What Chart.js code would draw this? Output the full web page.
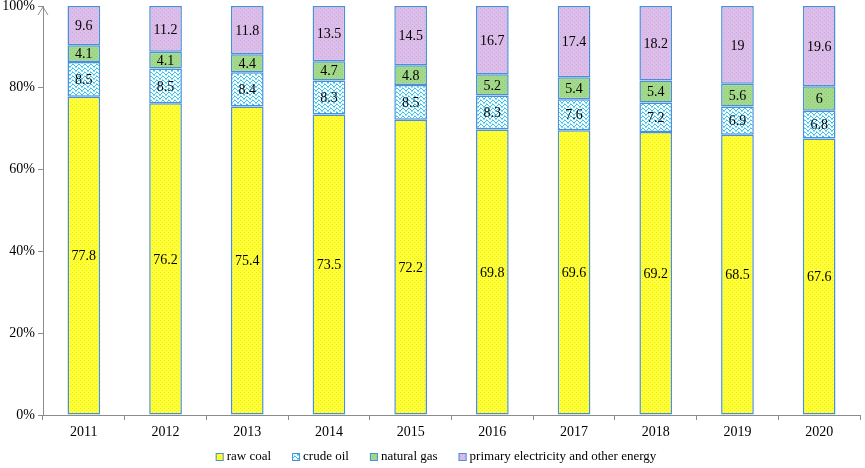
<!DOCTYPE html>
<html>
<head>
<meta charset="utf-8">
<script src="https://cdn.jsdelivr.net/npm/chart.js@4"></script>
<style>
  html, body { margin: 0; padding: 0; background: #fff; }
  #wrap { width: 865px; height: 468px; }
</style>
</head>
<body>
<div id="wrap"><canvas id="myChart"></canvas></div>
<script>
const years = ['2011', '2012', '2013', '2014', '2015', '2016', '2017', '2018', '2019', '2020'];
const rawCoal = [77.8, 76.2, 75.4, 73.5, 72.2, 69.8, 69.6, 69.2, 68.5, 67.6];
const crudeOil = [8.5, 8.5, 8.4, 8.3, 8.5, 8.3, 7.6, 7.2, 6.9, 6.8];
const naturalGas = [4.1, 4.1, 4.4, 4.7, 4.8, 5.2, 5.4, 5.4, 5.6, 6];
const primaryElec = [9.6, 11.2, 11.8, 13.5, 14.5, 16.7, 17.4, 18.2, 19, 19.6];
const yTicks = [0, 20, 40, 60, 80, 100];

const FONT = "'Liberation Serif', 'Times New Roman', serif";
const BORDER = '#4a90d6';
const AXIS = '#8c8c8c';

// little tiles for the Excel-like fill patterns
function makeTile(w, h, draw) {
    var c = document.createElement('canvas');
    c.width = w; c.height = h;
    draw(c.getContext('2d'));
    return document.createElement('canvas').getContext('2d').createPattern(c, 'repeat');
}

var dots = function (base, dot) {
    return makeTile(4, 4, function (g) {
        g.fillStyle = base; g.fillRect(0, 0, 4, 4);
        g.fillStyle = dot;
        g.fillRect(0, 0, 1, 1);
        g.fillRect(2, 2, 1, 1);
    });
};

var coalFill = dots('#ffff33', '#e8e82a');
var gasFill = dots('#a3d98a', '#92cb78');
var elecFill = dots('#dcbde9', '#ceadde');
var oilFill = makeTile(6, 4, function (g) {
    g.fillStyle = '#ffffff'; g.fillRect(0, 0, 6, 4);
    g.fillStyle = '#2ec4f2';
    // zig-zag waves
    g.fillRect(0, 0, 2, 1);
    g.fillRect(2, 1, 1, 1);
    g.fillRect(3, 2, 2, 1);
    g.fillRect(5, 1, 1, 1);
    g.fillStyle = '#8fdcf7';
    g.fillRect(0, 3, 1, 1);
    g.fillRect(3, 3, 2, 1);
});

var valueLabels = {
    id: 'valueLabels',
    afterDatasetsDraw: function (chart) {
        var ctx = chart.ctx;
        ctx.save();
        ctx.font = '14px ' + FONT;
        ctx.fillStyle = '#000';
        ctx.textAlign = 'center';
        ctx.textBaseline = 'middle';
        chart.data.datasets.forEach(function (ds, i) {
            chart.getDatasetMeta(i).data.forEach(function (bar, j) {
                var mid = (bar.y + bar.base) / 2;
                ctx.fillText(String(ds.data[j]), bar.x, mid + 1);
            });
        });
        ctx.restore();
    }
};

var axisArrow = {
    id: 'axisArrow',
    afterDraw: function (chart) {
        var ctx = chart.ctx;
        var a = chart.chartArea;
        ctx.save();
        ctx.strokeStyle = AXIS;
        ctx.lineWidth = 1;
        ctx.beginPath();
        ctx.moveTo(a.left - 5, a.top + 9);
        ctx.lineTo(a.left, a.top + 1);
        ctx.lineTo(a.left + 5, a.top + 9);
        ctx.stroke();
        ctx.restore();
    }
};

// legend drawn by hand so it sits where the original one is
var bottomLegend = {
    id: 'bottomLegend',
    afterDraw: function (chart) {
        var ctx = chart.ctx;
        var sets = chart.data.datasets;
        var box = 8, gapText = 3, gapItem = 21, y = 457;
        ctx.save();
        ctx.font = '13px ' + FONT;
        ctx.textBaseline = 'middle';
        var total = 0;
        sets.forEach(function (d, i) {
            total += box + gapText + ctx.measureText(d.label).width + (i ? gapItem : 0);
        });
        var x = 436 - total / 2;
        sets.forEach(function (d) {
            ctx.fillStyle = d.backgroundColor;
            ctx.fillRect(x, y - box / 2, box, box);
            ctx.strokeStyle = BORDER;
            ctx.lineWidth = 1;
            ctx.strokeRect(x + 0.5, y - box / 2 + 0.5, box - 1, box - 1);
            ctx.fillStyle = '#000';
            ctx.fillText(d.label, x + box + gapText, y);
            x += box + gapText + ctx.measureText(d.label).width + gapItem;
        });
        ctx.restore();
    }
};

function ds(label, data, fill) {
    return {
        label: label,
        data: data,
        backgroundColor: fill,
        borderColor: BORDER,
        borderWidth: 1.5,
        borderSkipped: false,
        barPercentage: 0.4,
        categoryPercentage: 1
    };
}

var ctx = document.getElementById('myChart').getContext('2d');
var chart = new Chart(ctx, {
    type: 'bar',
    data: {
        labels: years,
        datasets: [
            ds('raw coal', rawCoal, coalFill),
            ds('crude oil', crudeOil, oilFill),
            ds('natural gas', naturalGas, gasFill),
            ds('primary electricity and other energy', primaryElec, elecFill)
        ]
    },
    options: {
        responsive: true,
        maintainAspectRatio: false,
        animation: false,
        layout: { padding: { top: 6, right: 5, left: 0, bottom: 23 } },
        plugins: {
            legend: { display: false },
            tooltip: { enabled: false }
        },
        scales: {
            x: {
                stacked: true,
                grid: {
                    display: true,
                    drawOnChartArea: false,
                    offset: true,
                    tickLength: 5,
                    color: AXIS
                },
                border: { color: AXIS },
                ticks: { font: { family: FONT, size: 14 }, color: '#000', padding: 4 },
                afterFit: function (s) { s.height = 30; s.paddingLeft = 0; s.paddingRight = 0; }
            },
            y: {
                stacked: true,
                min: 0,
                max: 100,
                afterBuildTicks: function (s) {
                    s.ticks = yTicks.map(function (v) { return { value: v }; });
                },
                grid: {
                    display: true,
                    drawOnChartArea: false,
                    tickLength: 5,
                    color: AXIS
                },
                border: { color: AXIS },
                ticks: {
                    font: { family: FONT, size: 14 },
                    color: '#000',
                    padding: 3,
                    callback: function (v) { return v + '%'; }
                },
                afterFit: function (s) { s.width = 43; s.paddingTop = 0; s.paddingBottom = 0; }
            }
        }
    },
    plugins: [valueLabels, axisArrow, bottomLegend]
});
</script>
</body>
</html>
